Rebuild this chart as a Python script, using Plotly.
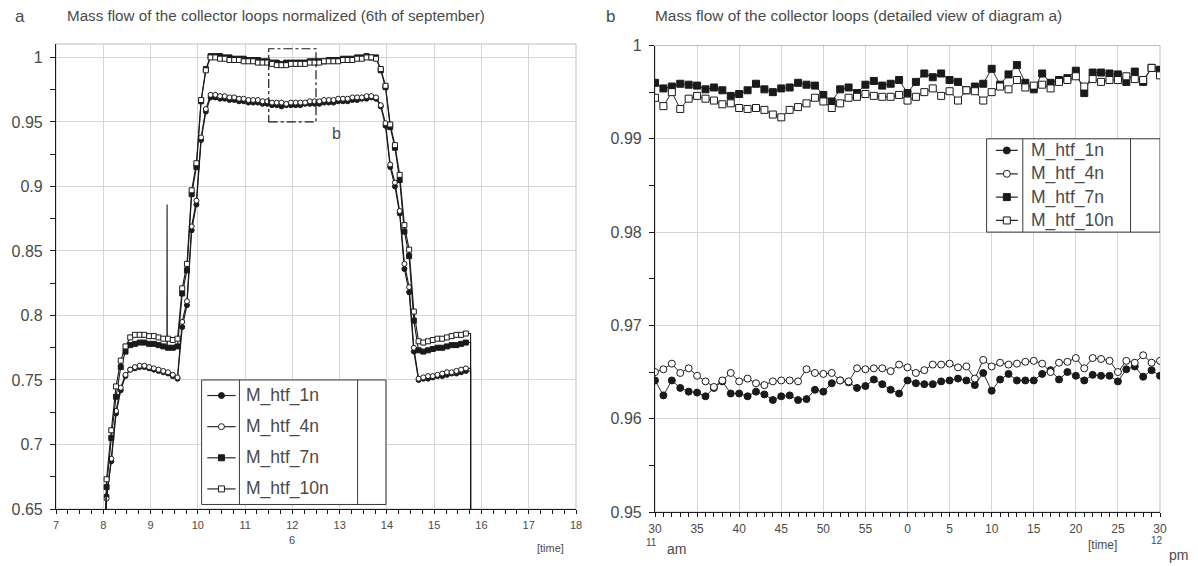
import plotly.graph_objects as go

# ---------------- data: day view (panel a) ----------------
# sampling times of the plotted markers, hours of the day (6 minute spacing)
time_h = [round(8.07 + 0.1 * k, 2) for k in range(77)]

m_htf_1n_day = [
    0.660, 0.687, 0.724, 0.742, 0.753, 0.758, 0.759, 0.760, 0.760, 0.759,
    0.758, 0.757, 0.756, 0.755, 0.753, 0.751, 0.791, 0.808, 0.866, 0.886,
    0.936, 0.958, 0.969, 0.969, 0.968, 0.968, 0.967, 0.967, 0.966, 0.966,
    0.965, 0.965, 0.965, 0.964, 0.964, 0.963, 0.963, 0.962, 0.963, 0.963,
    0.963, 0.963, 0.964, 0.964, 0.964, 0.964, 0.965, 0.965, 0.965, 0.966,
    0.966, 0.966, 0.967, 0.967, 0.968, 0.968, 0.969, 0.968, 0.962, 0.947,
    0.915, 0.900, 0.879, 0.836, 0.818, 0.772, 0.750, 0.751, 0.751, 0.752,
    0.753, 0.753, 0.754, 0.755, 0.755, 0.756, 0.757,
]
m_htf_4n_day = [
    0.658, 0.689, 0.726, 0.744, 0.754, 0.758, 0.760, 0.761, 0.761, 0.760,
    0.759, 0.758, 0.757, 0.756, 0.754, 0.752, 0.795, 0.811, 0.869, 0.889,
    0.938, 0.960, 0.971, 0.971, 0.970, 0.970, 0.969, 0.969, 0.968, 0.968,
    0.967, 0.967, 0.967, 0.966, 0.966, 0.965, 0.965, 0.965, 0.964, 0.965,
    0.965, 0.965, 0.965, 0.966, 0.966, 0.966, 0.967, 0.967, 0.967, 0.968,
    0.968, 0.968, 0.969, 0.969, 0.969, 0.970, 0.970, 0.969, 0.963, 0.949,
    0.917, 0.903, 0.881, 0.840, 0.822, 0.775, 0.751, 0.752, 0.753, 0.753,
    0.754, 0.755, 0.756, 0.756, 0.757, 0.758, 0.759,
]
m_htf_7n_day = [
    0.667, 0.705, 0.737, 0.760, 0.772, 0.777, 0.778, 0.779, 0.779, 0.778,
    0.778, 0.777, 0.776, 0.775, 0.775, 0.776, 0.817, 0.835, 0.894, 0.915,
    0.966, 0.991, 1.001, 1.001, 1.001, 1.000, 1.000, 0.999, 0.999, 0.999,
    0.998, 0.998, 0.998, 0.997, 0.997, 0.996, 0.996, 0.995, 0.996, 0.996,
    0.996, 0.996, 0.996, 0.997, 0.997, 0.997, 0.997, 0.998, 0.998, 0.998,
    0.999, 0.999, 0.999, 1.000, 1.000, 1.001, 1.000, 1.000, 0.990, 0.977,
    0.946, 0.930, 0.905, 0.865, 0.846, 0.796, 0.773, 0.772, 0.773, 0.774,
    0.775, 0.775, 0.776, 0.777, 0.777, 0.778, 0.779,
]
m_htf_10n_day = [
    0.673, 0.711, 0.745, 0.765, 0.776, 0.783, 0.785, 0.785, 0.785, 0.784,
    0.784, 0.783, 0.782, 0.782, 0.781, 0.782, 0.821, 0.840, 0.897, 0.918,
    0.967, 0.990, 1.000, 1.000, 0.999, 0.999, 0.998, 0.998, 0.998, 0.997,
    0.997, 0.997, 0.996, 0.996, 0.996, 0.995, 0.994, 0.994, 0.994, 0.995,
    0.995, 0.995, 0.995, 0.996, 0.996, 0.996, 0.997, 0.997, 0.997, 0.997,
    0.998, 0.998, 0.998, 0.999, 0.999, 1.000, 1.000, 0.999, 0.991, 0.978,
    0.948, 0.932, 0.909, 0.870, 0.851, 0.803, 0.780, 0.779, 0.780, 0.781,
    0.782, 0.782, 0.783, 0.784, 0.785, 0.785, 0.786,
]
# loop start / shut-down instants (flow below the axis) and a short sensor spike
start_time_h = 8.03
end_time_h = 15.77
flow_off = 0.62
spike_time_h = 9.35
spike_base = 0.776
spike_value = 0.886

# ---------------- data: detail view (panel b) ----------------
# minutes after 11:30
minutes = list(range(61))
minute_ticks = list(range(0, 61, 5))
minute_labels = ["30", "35", "40", "45", "50", "55", "0", "5", "10", "15", "20", "25", "30"]

m_htf_1n_detail = [
    0.9641, 0.9625, 0.9641, 0.9633, 0.9629, 0.9628, 0.9624, 0.9633, 0.9640, 0.9627,
    0.9627, 0.9624, 0.9629, 0.9626, 0.9620, 0.9624, 0.9625, 0.9620, 0.9621, 0.9631,
    0.9629, 0.9638, 0.9641, 0.9639, 0.9633, 0.9635, 0.9642, 0.9637, 0.9631, 0.9627,
    0.9641, 0.9638, 0.9637, 0.9637, 0.9640, 0.9641, 0.9643, 0.9641, 0.9636, 0.9649,
    0.9630, 0.9642, 0.9648, 0.9641, 0.9641, 0.9641, 0.9648, 0.9652, 0.9642, 0.9650,
    0.9646, 0.9641, 0.9647, 0.9646, 0.9646, 0.9640, 0.9653, 0.9656, 0.9645, 0.9652,
    0.9646,
]
m_htf_4n_detail = [
    0.9650, 0.9653, 0.9659, 0.9649, 0.9654, 0.9646, 0.9640, 0.9634, 0.9641, 0.9649,
    0.9640, 0.9643, 0.9638, 0.9636, 0.9640, 0.9641, 0.9641, 0.9640, 0.9653, 0.9649,
    0.9648, 0.9649, 0.9641, 0.9640, 0.9654, 0.9653, 0.9654, 0.9654, 0.9651, 0.9658,
    0.9655, 0.9649, 0.9652, 0.9658, 0.9658, 0.9659, 0.9655, 0.9656, 0.9643, 0.9663,
    0.9656, 0.9660, 0.9658, 0.9659, 0.9661, 0.9662, 0.9659, 0.9650, 0.9660, 0.9661,
    0.9665, 0.9654, 0.9665, 0.9664, 0.9662, 0.9650, 0.9662, 0.9660, 0.9668, 0.9660,
    0.9662,
]
m_htf_7n_detail = [
    0.9960, 0.9954, 0.9956, 0.9959, 0.9958, 0.9957, 0.9953, 0.9955, 0.9952, 0.9946,
    0.9948, 0.9952, 0.9959, 0.9953, 0.9950, 0.9954, 0.9955, 0.9960, 0.9958, 0.9957,
    0.9947, 0.9940, 0.9953, 0.9955, 0.9949, 0.9958, 0.9962, 0.9957, 0.9959, 0.9963,
    0.9949, 0.9961, 0.9970, 0.9966, 0.9970, 0.9963, 0.9961, 0.9952, 0.9956, 0.9959,
    0.9975, 0.9958, 0.9969, 0.9979, 0.9960, 0.9953, 0.9970, 0.9960, 0.9963, 0.9965,
    0.9973, 0.9949, 0.9971, 0.9971, 0.9970, 0.9969, 0.9961, 0.9972, 0.9961, 0.9976,
    0.9974,
]
m_htf_10n_detail = [
    0.9944, 0.9935, 0.9950, 0.9932, 0.9943, 0.9946, 0.9943, 0.9941, 0.9937, 0.9938,
    0.9933, 0.9932, 0.9933, 0.9931, 0.9926, 0.9923, 0.9931, 0.9934, 0.9938, 0.9944,
    0.9940, 0.9933, 0.9938, 0.9944, 0.9945, 0.9948, 0.9946, 0.9945, 0.9945, 0.9947,
    0.9941, 0.9945, 0.9950, 0.9954, 0.9946, 0.9951, 0.9941, 0.9952, 0.9951, 0.9941,
    0.9950, 0.9956, 0.9953, 0.9963, 0.9955, 0.9957, 0.9958, 0.9954, 0.9961, 0.9963,
    0.9967, 0.9956, 0.9964, 0.9961, 0.9963, 0.9963, 0.9967, 0.9964, 0.9963, 0.9976,
    0.9968,
]

series_names = ["M_htf_1n", "M_htf_4n", "M_htf_7n", "M_htf_10n"]

day_ticks = list(range(7, 19))
day_labels = [str(h) for h in day_ticks]
day_yticks = [0.65, 0.70, 0.75, 0.80, 0.85, 0.90, 0.95, 1.00]
day_ylabels = ["0.65", "0.7", "0.75", "0.8", "0.85", "0.9", "0.95", "1"]
detail_yticks = [0.95, 0.96, 0.97, 0.98, 0.99, 1.00]
detail_ylabels = ["0.95", "0.96", "0.97", "0.98", "0.99", "1"]

# ---------------- styling ----------------
W, H = 1198, 566
FONT = "Liberation Sans, Arial, sans-serif"
TXT = "#4a4a4a"
INK = "#1a1a1a"
GRID = "#d6d6d6"

styles = [
    dict(symbol="circle", color=INK, fill=INK),
    dict(symbol="circle", color=INK, fill="white"),
    dict(symbol="square", color=INK, fill=INK),
    dict(symbol="square", color=INK, fill="white"),
]


def px_x(v):
    return v / W


def px_y(v):
    return 1 - v / H


fig = go.Figure()

# ---- panel a: lines carry every sample, markers every 6 minutes ----
day_values = [m_htf_1n_day, m_htf_4n_day, m_htf_7n_day, m_htf_10n_day]
for i, (name, vals, st) in enumerate(zip(series_names, day_values, styles)):
    xs = [start_time_h] + time_h + [end_time_h, end_time_h]
    ys = [flow_off] + vals + [vals[-1], flow_off]
    if name == "M_htf_7n":
        j = next(k for k, t in enumerate(xs) if t > spike_time_h)
        xs = xs[:j] + [spike_time_h - 0.004, spike_time_h, spike_time_h + 0.004] + xs[j:]
        ys = ys[:j] + [spike_base, spike_value, spike_base] + ys[j:]
    fig.add_trace(go.Scatter(
        x=xs, y=ys, mode="lines", line=dict(color=INK, width=1.1),
        showlegend=False, hoverinfo="skip", xaxis="x", yaxis="y"))
    fig.add_trace(go.Scatter(
        x=time_h, y=vals, mode="markers", name=name, showlegend=False,
        marker=dict(symbol=st["symbol"], size=5, color=st["fill"],
                    line=dict(color=st["color"], width=1)),
        xaxis="x", yaxis="y"))

# ---- panel b ----
detail_values = [m_htf_1n_detail, m_htf_4n_detail, m_htf_7n_detail, m_htf_10n_detail]
for name, vals, st in zip(series_names, detail_values, styles):
    fig.add_trace(go.Scatter(
        x=minutes, y=vals, mode="lines+markers", name=name, showlegend=False,
        line=dict(color="#2a2a2a", width=1),
        marker=dict(symbol=st["symbol"], size=7, color=st["fill"],
                    line=dict(color=st["color"], width=1)),
        xaxis="x2", yaxis="y2"))

axis_common = dict(
    automargin=False,
    showgrid=True, gridcolor=GRID, gridwidth=1, zeroline=False,
    showline=True, linecolor=INK, linewidth=1.2,
    ticks="outside", tickcolor=INK, ticklen=5, tickwidth=1,
    tickfont=dict(family=FONT, color=TXT),
)

left_dom_x = [px_x(56), px_x(576)]
left_dom_y = [px_y(509), px_y(44)]
right_dom_x = [px_x(655), px_x(1160)]
right_dom_y = [px_y(512), px_y(45.5)]

fig.update_layout(
    width=W, height=H, margin=dict(l=0, r=0, t=0, b=0, autoexpand=False),
    paper_bgcolor="white", plot_bgcolor="white",
    font=dict(family=FONT, color=TXT),
    showlegend=False,
    xaxis=dict(axis_common, domain=left_dom_x, range=[7, 18], anchor="y",
               tickmode="array", tickvals=day_ticks, ticktext=day_labels,
               ticklen=4, ticklabelstandoff=2,
               tickfont=dict(family=FONT, color=TXT, size=11),
               minor=dict(tickmode="linear", tick0=7, dtick=0.25, ticks="outside",
                          ticklen=4, tickcolor=INK, showgrid=False)),
    yaxis=dict(axis_common, domain=left_dom_y, range=[0.65, 1.0104], anchor="x",
               tickmode="array", tickvals=day_yticks, ticktext=day_ylabels,
               ticklabelstandoff=4,
               tickfont=dict(family=FONT, color=TXT, size=16),
               minor=dict(tickmode="linear", tick0=0.65, dtick=0.025, ticks="outside",
                          ticklen=5, tickcolor=INK, showgrid=False)),
    xaxis2=dict(axis_common, domain=right_dom_x, range=[0, 60], anchor="y2",
                tickmode="array", tickvals=minute_ticks, ticktext=minute_labels,
                ticklen=4, ticklabelstandoff=1,
                tickfont=dict(family=FONT, color=TXT, size=12),
                minor=dict(tickmode="linear", tick0=0, dtick=1, ticks="outside",
                           ticklen=4, tickcolor=INK, showgrid=False)),
    yaxis2=dict(axis_common, domain=right_dom_y, range=[0.95, 1.0], anchor="x2",
                tickmode="array", tickvals=detail_yticks, ticktext=detail_ylabels,
                ticklabelstandoff=4,
                tickfont=dict(family=FONT, color=TXT, size=16),
                minor=dict(tickmode="linear", tick0=0.95, dtick=0.005, ticks="outside",
                           ticklen=5, tickcolor=INK, showgrid=False)),
    # inner halves of the crossing x tick marks
    xaxis3=dict(domain=left_dom_x, range=[7, 18], overlaying="x", anchor="y", side="bottom",
                automargin=False,
                showgrid=False, zeroline=False, showline=False, showticklabels=False,
                tickmode="array", tickvals=day_ticks, ticks="inside", ticklen=5,
                tickcolor=INK,
                minor=dict(tickmode="linear", tick0=7, dtick=0.25, ticks="inside",
                           ticklen=4, tickcolor=INK, showgrid=False)),
    xaxis4=dict(domain=right_dom_x, range=[0, 60], overlaying="x2", anchor="y2", side="bottom",
                automargin=False,
                showgrid=False, zeroline=False, showline=False, showticklabels=False,
                tickmode="array", tickvals=minute_ticks, ticks="inside", ticklen=5,
                tickcolor=INK,
                minor=dict(tickmode="linear", tick0=0, dtick=1, ticks="inside",
                           ticklen=4, tickcolor=INK, showgrid=False)),
)

shapes = []
annotations = []


def label(text, x, y, size, xref="paper", yref="paper", xanchor="center"):
    """Free text placed by its centre (or left edge)."""
    if xref == "paper":
        x = px_x(x)
    if yref == "paper":
        y = px_y(y)
    return dict(xref=xref, yref=yref, x=x, y=y, text=text, showarrow=False,
                xanchor=xanchor, yanchor="middle",
                font=dict(size=size, color=TXT, family=FONT))


# light frame on the top / right sides of both plots
for xr, yr in (("x", "y"), ("x2", "y2")):
    shapes.append(dict(type="rect", xref=f"{xr} domain", yref=f"{yr} domain",
                       x0=0, x1=1, y0=0, y1=1, line=dict(color="#bdbdbd", width=1),
                       layer="below"))

# dash-dot window of panel b inside panel a
shapes.append(dict(type="rect", xref="x", yref="y", x0=11.5, x1=12.5, y0=0.95, y1=1.0067,
                   line=dict(color=INK, width=1.2, dash="dashdot")))
annotations.append(label("b", 12.93, 0.941, 16, xref="x", yref="y"))


def add_key(xr, yr, box, div1, div2, ytop, ybot, seg, mark_x, text_x, msize, fsize):
    shapes.append(dict(type="rect", xref=xr, yref=yr, x0=box[0], x1=box[1], y0=ybot, y1=ytop,
                       line=dict(color="#3a3a3a", width=1), fillcolor="white"))
    for d in (div1, div2):
        shapes.append(dict(type="line", xref=xr, yref=yr, x0=d, x1=d, y0=ybot, y1=ytop,
                           line=dict(color="#3a3a3a", width=1)))
    for r, (name, st) in enumerate(zip(series_names, styles)):
        yc = ytop - (ytop - ybot) * (0.125 + 0.25 * r)
        shapes.append(dict(type="line", xref=xr, yref=yr, x0=seg[0], x1=seg[1], y0=yc, y1=yc,
                           line=dict(color="#2a2a2a", width=1.2)))
        h = msize / 2
        shapes.append(dict(type="circle" if st["symbol"] == "circle" else "rect",
                           xref=xr, yref=yr, xsizemode="pixel", ysizemode="pixel",
                           xanchor=mark_x, yanchor=yc, x0=-h, x1=h, y0=-h, y1=h,
                           fillcolor=st["fill"], line=dict(color=st["color"], width=1)))
        annotations.append(label(name, text_x, yc, fsize, xref=xr, yref=yr, xanchor="left"))


add_key("x", "y", (10.08, 13.98), 10.88, 13.38, 0.75, 0.6535,
        (10.2, 10.8), 10.5, 10.97, 6, 17.5)
add_key("x2", "y2", (39.4, 60.0), 43.7, 56.5, 0.99, 0.98,
        (40.5, 43.1), 41.8, 44.4, 7, 17.5)

# titles
annotations += [
    label("a", 20, 17, 17),
    label("Mass flow of the collector loops normalized (6th of september)", 65, 16, 15.2,
          xanchor="left"),
    label("b", 610, 17, 17),
    label("Mass flow of the collector loops (detailed view of diagram a)", 653, 16, 15.4,
          xanchor="left"),
]

# axis captions
annotations += [
    label("6", 12, 540, 11, xref="x"),
    label("[time]", 550, 548, 11),
    label("11", 651, 542, 10),
    label("am", 676, 549, 14),
    label("[time]", 1102, 545, 12),
    label("12", 1157, 540, 10),
    label("pm", 1178, 555, 14),
]

fig.update_layout(shapes=shapes, annotations=annotations)
fig.write_html("out.html")
